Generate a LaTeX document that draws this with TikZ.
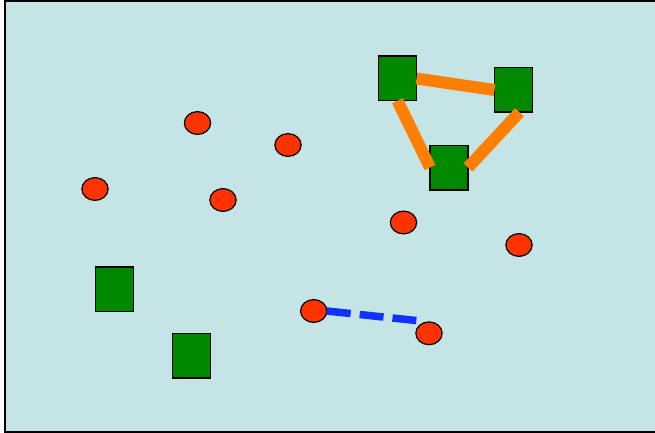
\documentclass[tikz,border=0pt]{standalone}
\usetikzlibrary{shapes.geometric}
\definecolor{seabg}{RGB}{196,228,230}
\definecolor{boxgreen}{RGB}{0,136,0}
\definecolor{dotred}{RGB}{255,51,0}
\definecolor{linkorange}{RGB}{255,128,0}
\definecolor{linkblue}{RGB}{17,51,255}
\begin{document}
\begin{tikzpicture}[
  x=1pt, y=-1pt,
  greenbox/.style={draw=black, line width=1.5pt, fill=boxgreen,
    minimum width=38pt, minimum height=44.5pt, inner sep=0pt, outer sep=0pt},
  reddot/.style={ellipse, draw=black, line width=1.2pt, fill=dotred,
    minimum width=26.3pt, minimum height=22.8pt, inner sep=0pt, outer sep=0pt},
  solidlink/.style={draw=linkorange, line width=12pt},
  dashlink/.style={draw=linkblue, line width=7.5pt,
    dash pattern=on 24pt off 9pt, shorten >=12pt}
]
\useasboundingbox (0,0) rectangle (655,433);
\clip (0,0) rectangle (655,433);
\draw[fill=seabg, line width=2pt] (5,1) rectangle (700,432);

\node[greenbox] (A) at (397.5,78.5) {};
\node[greenbox] (B) at (513.5,90) {};
\node[greenbox] (C) at (449,167.5) {};
\node[greenbox] (D) at (114.7,289.3) {};
\node[greenbox] (E) at (191.3,355.7) {};

\node[reddot] (r1) at (197.5,123) {};
\node[reddot] (r2) at (288,145) {};
\node[reddot] (r3) at (95,189) {};
\node[reddot] (r4) at (223,200) {};
\node[reddot] (r5) at (403.5,222.5) {};
\node[reddot] (r6) at (519,245) {};
\node[reddot] (r7) at (313.7,311) {};
\node[reddot] (r8) at (429,333.3) {};

\draw[solidlink] (A.east) -- (B.west);
\draw[solidlink] (A.south) -- (C.west);
\draw[solidlink] (B.-75) -- (C.east);
\draw[dashlink] (r7.east) -- (r8.north);
\end{tikzpicture}
\end{document}
